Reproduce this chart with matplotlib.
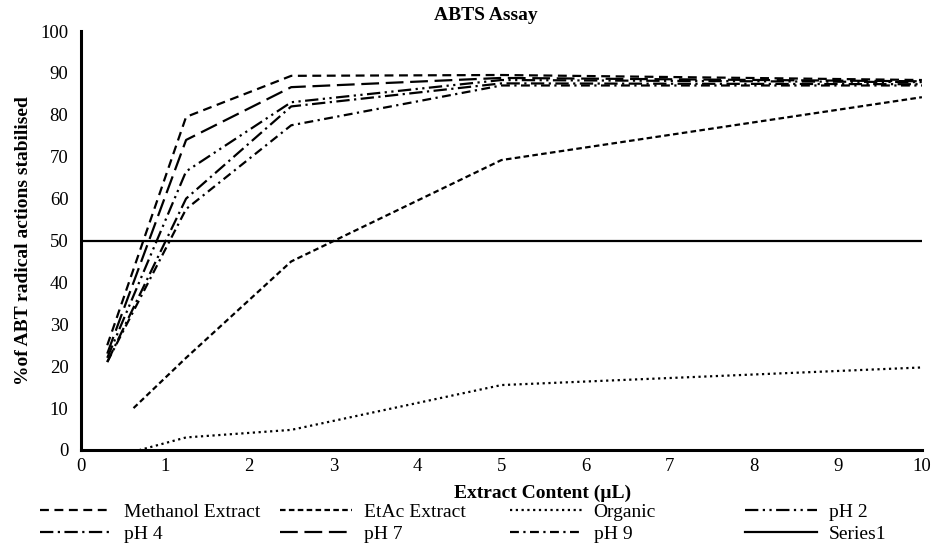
import matplotlib
matplotlib.use("Agg")
import matplotlib.pyplot as plt

plt.rcParams['font.family'] = ['Liberation Serif', 'DejaVu Serif']

# extract content (uL) and % of ABT radical cations stabilised
x_main = [0.3125, 1.25, 2.5, 5, 10]
x_etac = [0.625, 1.25, 2.5, 5, 10]
x_org = [0.625, 1.25, 2.5, 5, 10]

methanol = [25, 79.5, 89.3, 89.5, 88.3]
etac = [10, 22, 45, 69.2, 84.2]
organic = [-0.4, 3.0, 4.8, 15.5, 19.7]
ph2 = [22, 66.5, 83, 88.3, 87.8]
ph4 = [21, 60, 82, 87.5, 87.3]
ph7 = [23, 74, 86.6, 88.8, 88]
ph9 = [21, 57.5, 77.5, 87, 87]
series1_x = [0, 10]
series1 = [50, 50]

fig = plt.figure(figsize=(9.35, 5.44), dpi=100)
ax = fig.add_axes([0.0866, 0.1728, 0.8994, 0.7702])

lw = 1.6
l_meth, = ax.plot(x_main, methanol, color='black', lw=lw, ls=(0, (4, 2.5)), label='Methanol Extract')
l_etac, = ax.plot(x_etac, etac, color='black', lw=lw, ls=(0, (2.5, 1.5)), label='EtAc Extract')
l_org, = ax.plot(x_org, organic, color='black', lw=lw, ls=(0, (1, 1.6)), label='Organic')
l_ph2, = ax.plot(x_main, ph2, color='black', lw=lw, ls=(0, (6, 2, 1, 2, 1, 2)), label='pH 2')
l_ph4, = ax.plot(x_main, ph4, color='black', lw=lw, ls=(0, (6, 2, 1, 2)), label='pH 4')
l_ph7, = ax.plot(x_main, ph7, color='black', lw=lw, ls=(0, (8, 3)), label='pH 7')
l_ph9, = ax.plot(x_main, ph9, color='black', lw=lw, ls=(0, (4, 2, 1, 2)), label='pH 9')
l_s1, = ax.plot(series1_x, series1, color='black', lw=lw, ls='-', label='Series1')

ax.set_xlim(0, 10)
ax.set_ylim(0, 100)
ax.set_xticks(range(0, 11))
ax.set_yticks(range(0, 101, 10))
ax.tick_params(length=0, labelsize=13.5)
ax.tick_params(axis='y', pad=9)
ax.tick_params(axis='x', pad=6)
for s in ['top', 'right']:
    ax.spines[s].set_visible(False)
for s in ['left', 'bottom']:
    ax.spines[s].set_linewidth(2.2)

fig.text(486 / 935, 1 - 15 / 544, 'ABTS Assay', fontsize=14, fontweight='bold',
         ha='center', va='center')
fig.text(543 / 935, 1 - 493 / 544, 'Extract Content (\u00b5L)', fontsize=14,
         fontweight='bold', ha='center', va='center')
ax.set_ylabel('%of ABT radical actions stabilised', fontsize=14, fontweight='bold', labelpad=6)

# legend: four equal columns, filled row by row
columns = [(l_meth, l_ph4), (l_etac, l_ph7), (l_org, l_ph9), (l_ph2, l_s1)]
col_x = [40, 280, 510, 745]
for (h1, h2), cx in zip(columns, col_x):
    leg = fig.legend(handles=[h1, h2], labels=[h1.get_label(), h2.get_label()],
                     loc='upper left', bbox_to_anchor=(cx / 935, 1 - 503 / 544),
                     frameon=False, fontsize=14, handlelength=3.7,
                     handletextpad=0.6, labelspacing=0.25, borderpad=0,
                     borderaxespad=0)

fig.savefig('out.png', dpi=100)
